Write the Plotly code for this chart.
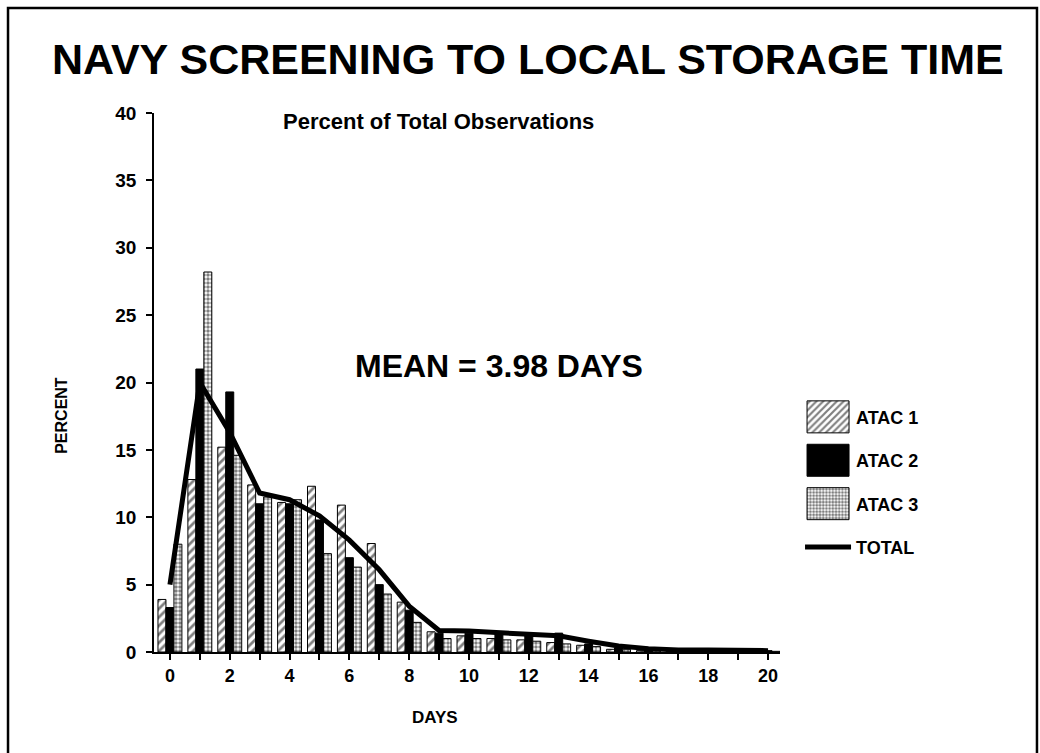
import plotly.graph_objects as go

# ---------------- data ----------------
days = list(range(0, 21))
atac1 = [3.9, 12.8, 15.2, 12.4, 11.1, 12.3, 10.9, 8.05, 3.7, 1.5, 1.2, 1.0, 0.9, 0.7, 0.5, 0.2, 0.1, 0.1, 0.05, 0.1, 0.05]
atac2 = [3.3, 21.0, 19.3, 11.0, 11.0, 9.8, 7.0, 5.0, 3.1, 1.4, 1.4, 1.4, 1.2, 1.4, 0.6, 0.3, 0.15, 0.1, 0.1, 0.1, 0.1]
atac3 = [8.0, 28.2, 14.6, 11.5, 11.3, 7.3, 6.3, 4.3, 2.2, 1.0, 1.0, 0.9, 0.8, 0.6, 0.4, 0.2, 0.1, 0.05, 0.05, 0.05, 0.05]
total = [5.0, 20.0, 16.3, 11.8, 11.3, 10.1, 8.3, 6.1, 3.4, 1.6, 1.55, 1.45, 1.3, 1.2, 0.8, 0.45, 0.25, 0.15, 0.15, 0.12, 0.1]
series_names = ["ATAC 1", "ATAC 2", "ATAC 3", "TOTAL"]
x_ticks = list(range(0, 21, 2))
y_ticks = list(range(0, 41, 5))

title_text = "NAVY SCREENING TO LOCAL STORAGE TIME"
subtitle_text = "Percent of Total Observations"
mean_text = "MEAN = 3.98 DAYS"

FONT = "Liberation Sans, Arial, Helvetica, sans-serif"

fig = go.Figure()
fig.add_trace(go.Bar(
    x=days, y=atac1, name=series_names[0], legendgroup="a1",
    marker=dict(color="white", line=dict(color="black", width=1),
                pattern=dict(shape="/", fgcolor="black", bgcolor="white", size=6, solidity=0.45)),
))
fig.add_trace(go.Bar(
    x=days, y=atac2, name=series_names[1], legendgroup="a2",
    marker=dict(color="black", line=dict(color="black", width=1)),
))
fig.add_trace(go.Bar(
    x=days, y=atac3, name=series_names[2], legendgroup="a3",
    marker=dict(color="white", line=dict(color="black", width=1),
                pattern=dict(shape=".", fgcolor="black", bgcolor="white", size=4, solidity=0.6)),
))
fig.add_trace(go.Scatter(
    x=days, y=total, name=series_names[3], legendgroup="tot", mode="lines",
    line=dict(color="black", width=5),
))

# page frame
fig.add_shape(type="rect", xref="paper", yref="paper",
              x0=-0.2332, x1=1.4105, y0=-0.25, y1=1.195,
              line=dict(color="black", width=2.5), layer="below")

fig.add_annotation(text=title_text, xref="paper", yref="paper", x=0.597, y=1.100,
                   showarrow=False, xanchor="center", yanchor="middle",
                   font=dict(family=FONT, size=43, color="black", weight="bold"))
fig.add_annotation(text=subtitle_text, xref="paper", yref="paper", x=0.455, y=0.985,
                   showarrow=False, xanchor="center", yanchor="middle",
                   font=dict(family=FONT, size=22, color="black", weight="bold"))
fig.add_annotation(text=mean_text, xref="x", yref="y", x=11.0, y=21.2,
                   showarrow=False, xanchor="center", yanchor="middle",
                   font=dict(family=FONT, size=32, color="black", weight="bold"))
fig.add_annotation(text="DAYS", xref="paper", yref="paper", x=0.449, y=-0.121,
                   showarrow=False, xanchor="center", yanchor="middle",
                   font=dict(family=FONT, size=17, color="black", weight="bold"))
fig.add_annotation(text="PERCENT", xref="paper", yref="paper", x=-0.147, y=0.44,
                   showarrow=False, xanchor="center", yanchor="middle", textangle=-90,
                   font=dict(family=FONT, size=16, color="black", weight="bold"))

fig.update_layout(
    width=1040, height=753,
    margin=dict(l=154, r=260, t=113, b=101, pad=0),
    paper_bgcolor="white", plot_bgcolor="white",
    barmode="group", bargap=0.2, bargroupgap=0.0,
    font=dict(family=FONT, color="black"),
    showlegend=True,
    legend=dict(x=1.032, y=0.47, xanchor="left", yanchor="top",
                font=dict(family=FONT, size=18, color="black", weight="bold"),
                itemwidth=46, tracegroupgap=17, bgcolor="rgba(0,0,0,0)",
                traceorder="grouped"),
    xaxis=dict(range=[-0.533, 20.4], tickvals=x_ticks, ticks="outside", ticklen=6,
               tickwidth=1.5, tickcolor="black", showline=True, linecolor="black",
               linewidth=2, showgrid=False, zeroline=False,
               tickfont=dict(family=FONT, size=18, color="black", weight="bold"),
               minor=dict(dtick=1, tick0=0, ticks="outside", ticklen=6, tickcolor="black", tickwidth=1.5),
               fixedrange=True),
    yaxis=dict(range=[0, 40], tickvals=y_ticks, ticks="outside", ticklen=6,
               tickwidth=1.5, tickcolor="black", showline=True, linecolor="black",
               linewidth=1.5, showgrid=False, zeroline=False,
               tickfont=dict(family=FONT, size=19, color="black", weight="bold"),
               ticklabelstandoff=6, fixedrange=True),
)

post = """
function fixLegend(){
  var ps = document.querySelectorAll('.legend .traces .legendpoints path');
  ps.forEach(function(p){
    if (!p.classList.contains('js-line')) {
      p.setAttribute('d','M21,16H-21V-16H21Z');
    }
  });
}
fixLegend();
var gdl = document.getElementById('{plot_id}');
if (gdl && gdl.on) { gdl.on('plotly_afterplot', fixLegend); }
var nfix = 0;
var tfix = setInterval(function(){ fixLegend(); nfix += 1; if (nfix > 40) clearInterval(tfix); }, 25);
"""

fig.write_html("out.html", post_script=post, config={"displayModeBar": False})
